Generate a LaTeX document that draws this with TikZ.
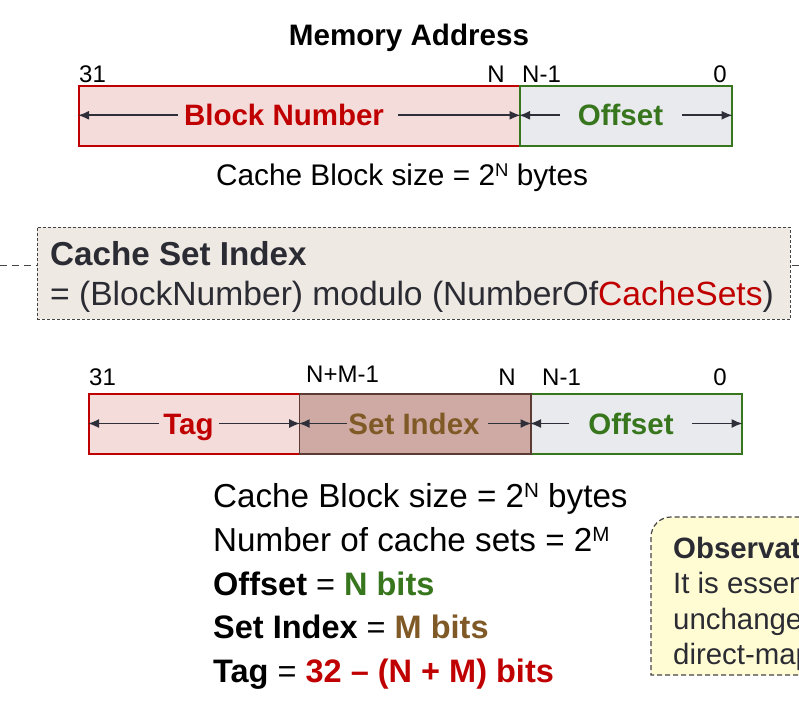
\documentclass[tikz,border=0pt]{standalone}
\usepackage{fontspec}
\setmainfont{Liberation Sans}
\usetikzlibrary{arrows.meta}

\definecolor{bnred}{HTML}{C00000}
\definecolor{bnfill}{HTML}{F4DCDA}
\definecolor{offgreen}{HTML}{38761D}
\definecolor{offfill}{HTML}{E8EAED}
\definecolor{sibrown}{HTML}{7F5A26}
\definecolor{siborder}{HTML}{5B3B33}
\definecolor{sifill}{HTML}{CFAAA4}
\definecolor{arrowgray}{HTML}{2F2F3A}
\definecolor{notefill}{HTML}{EEE9E2}
\definecolor{notetext}{HTML}{2B2B33}
\definecolor{obsfill}{HTML}{FFFCD4}
\definecolor{dashgray}{HTML}{444444}

\newcommand\upsc[1]{\raisebox{0.3em}{\scalebox{0.62}{#1}}}

\begin{document}
\begin{tikzpicture}[x=1pt,y=-1pt,
  fieldbox/.style={draw, line width=1.6pt, minimum height=60, inner sep=0, anchor=north west},
  fieldtxt/.style={font=\bfseries\fontsize{29.5}{32}\selectfont, inner sep=0,
                   text height=21pt, text depth=0pt, anchor=center},
  fldarrow/.style={draw=arrowgray, line width=1.7pt,
                   -{Latex[length=11pt,width=9pt]}},
  bitlbl/.style={font=\fontsize{24}{28}\selectfont, inner sep=0},
  listreg/.style={font=\fontsize{33.2}{37}\selectfont, inner sep=0, anchor=base west},
  listbold/.style={font=\bfseries\fontsize{32.5}{36}\selectfont, inner sep=0, anchor=base west},
  obstxt/.style={font=\fontsize{29.4}{33}\selectfont, text=notetext, inner sep=0, anchor=base west}
]
\path[use as bounding box, clip] (0,0) rectangle (799,713);
\fill[white] (0,0) rectangle (799,713);

% ---------- memory address layout ----------
\node[anchor=base, inner sep=0, font=\bfseries\fontsize{29.6}{33}\selectfont]
  (memtitle) at (409,45) {Memory Address};

\node[fieldbox, draw=bnred, fill=bnfill, minimum width=441] (bnbox) at (78,85) {};
\node[fieldbox, draw=offgreen, fill=offfill, minimum width=212] (offbox) at (519,85) {};

\node[fieldtxt, text=bnred] (bntxt) at (284,115.3) {Block Number};
\draw[fldarrow] ([xshift=-6pt]bntxt.west) -- (bnbox.west |- bntxt.west);
\draw[fldarrow] ([xshift=14pt]bntxt.east) -- (bnbox.east |- bntxt.east);

\node[fieldtxt, text=offgreen] (offtxt) at (620.5,115.3) {Offset};
\draw[fldarrow] ([xshift=-18pt]offtxt.west) -- (offbox.west |- offtxt.west);
\draw[fldarrow] ([xshift=19pt]offtxt.east) -- (offbox.east |- offtxt.east);

\node[bitlbl, anchor=base west] (ma31) at (79,82) {31};
\node[bitlbl, anchor=base east] (maN) at (505,82) {N};
\node[bitlbl, anchor=base west] (maN1) at (522,82) {N-1};
\node[bitlbl, anchor=base east] (ma0) at (727,82) {0};

\node[anchor=base, inner sep=0, font=\fontsize{29.8}{33}\selectfont]
  (masize) at (402,185) {Cache Block size = 2\upsc{N} bytes};

% ---------- set index note ----------
\coordinate (sepL) at (0,265.7);
\coordinate (sepR) at (799,265.7);
\draw[dashgray, line width=1.5pt, dash pattern=on 7pt off 5pt] (sepL) -- (sepR);

\node[draw=dashgray, fill=notefill, line width=0.9pt, dash pattern=on 3pt off 2pt,
      minimum width=753.5, minimum height=92, inner sep=0, anchor=north west]
  (csibox) at (36.5,227) {};
\node[anchor=base west, inner sep=0, text=notetext,
      font=\bfseries\fontsize{33.2}{36}\selectfont]
  (csititle) at (50,265.5) {Cache Set Index};
\node[anchor=base west, inner sep=0, text=notetext,
      font=\fontsize{33.6}{36}\selectfont]
  (csiform) at (50,305.5) {= (BlockNumber) modulo (NumberOf\textcolor{bnred}{CacheSets})};

% ---------- tag / set index / offset layout ----------
\node[fieldbox, draw=bnred, fill=bnfill, minimum width=210.6] (tagbox) at (88,393.3) {};
\node[fieldbox, draw=offgreen, fill=offfill, minimum width=211] (off2box) at (530,393.3) {};
\node[fieldbox, draw=siborder, fill=sifill, minimum width=231.4] (sibox) at (298.6,393.3) {};

\node[fieldtxt, text=bnred] (tagtxt) at (188.5,423.5) {Tag};
\draw[fldarrow] ([xshift=-4.5pt]tagtxt.west) -- (tagbox.west |- tagtxt.west);
\draw[fldarrow] ([xshift=5pt]tagtxt.east) -- (tagbox.east |- tagtxt.east);

\node[fieldtxt, text=sibrown] (sitxt) at (414,423.5) {Set Index};
\draw[fldarrow] ([xshift=-1pt]sitxt.west) -- (sibox.west |- sitxt.west);
\draw[fldarrow] ([xshift=8pt]sitxt.east) -- (sibox.east |- sitxt.east);

\node[fieldtxt, text=offgreen] (off2txt) at (631,423.5) {Offset};
\draw[fldarrow] ([xshift=-19pt]off2txt.west) -- (off2box.west |- off2txt.west);
\draw[fldarrow] ([xshift=18pt]off2txt.east) -- (off2box.east |- off2txt.east);

\node[bitlbl, anchor=base west] (sa31) at (89,385.5) {31};
\node[bitlbl, anchor=base west] (saNM) at (306,382.5) {N+M-1};
\node[bitlbl, anchor=base east] (saN) at (516,385.5) {N};
\node[bitlbl, anchor=base west] (saN1) at (542,385.5) {N-1};
\node[bitlbl, anchor=base east] (sa0) at (727,385.5) {0};

% ---------- field widths ----------
\node[listreg] (lblock) at (213,507) {Cache Block size = 2\upsc{N} bytes};
\node[listreg] (lsets) at (213,551.5) {Number of cache sets = 2\upsc{M}};
\node[listbold] (loff) at (213,595) {Offset {\mdseries=} \textcolor{offgreen}{N bits}};
\node[listbold] (lsi) at (213,638.5) {Set Index {\mdseries=} \textcolor{sibrown}{M bits}};
\node[listbold] (ltag) at (213,682) {Tag {\mdseries=} \textcolor{bnred}{32 – (N + M) bits}};

% ---------- observation note (runs off the right edge) ----------
\draw[draw=dashgray, fill=obsfill, line width=1.2pt, dash pattern=on 5pt off 3pt]
  (830,675) -- (651,675) -- (651,537) arc[start angle=180, end angle=90, radius=20pt]
  -- (830,517);
\node[obstxt, font=\bfseries\fontsize{29.4}{33}\selectfont] (obshead) at (673,558) {Observation};
\node[obstxt] (obs1) at (673,593) {It is essential};
\node[obstxt] (obs2) at (673,629) {unchanged};
\node[obstxt] (obs3) at (673,664) {direct-mapped};
\end{tikzpicture}
\end{document}
